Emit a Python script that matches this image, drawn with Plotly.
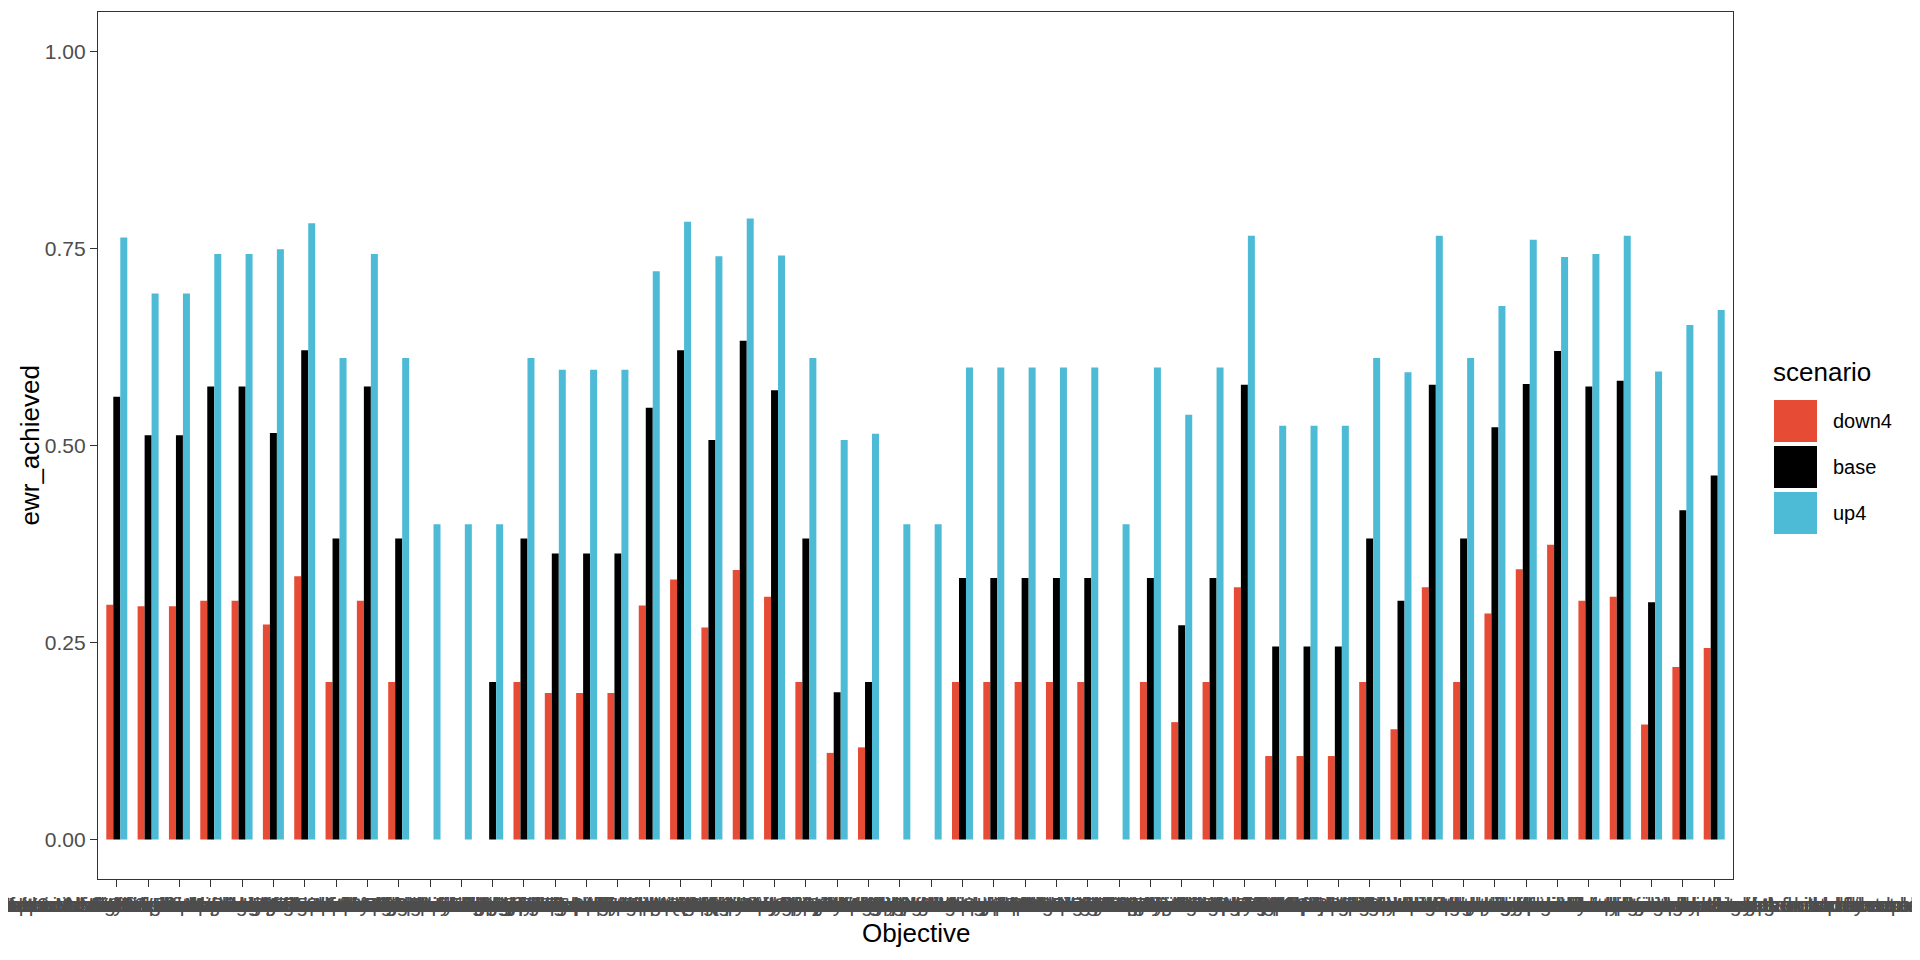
import plotly.graph_objects as go

# ---------------- data ----------------
objectives = [
    "NF1 No loss of native fish species",
    "NF2 Increase distribution of native fish",
    "NF3 Improve recruitment of short-lived fish",
    "NF4 Improve recruitment of long-lived fish",
    "NF5 Improve population structure of moderate-lived fish",
    "NF6 Increase movement of flow-cued spawning fish",
    "NF7 Improve fish community resilience in refugia",
    "NV1 Maintain extent of river red gum forest",
    "NV2 Improve condition of black box woodland",
    "NV3 Maintain lignum shrubland condition",
    "NV4 Increase extent of non-woody wetland vegetation",
    "NV5 Maintain riparian vegetation diversity",
    "NV6 Improve recruitment of coolibah woodland",
    "WB1 Maintain waterbird species diversity",
    "WB2 Increase abundance of colonial nesting birds",
    "WB3 Improve waterbird breeding success",
    "WB4 Support migratory shorebird habitat",
    "WB5 Maintain waterbird foraging habitat",
    "OS1 Support frog breeding and recruitment",
    "OS2 Maintain turtle populations",
    "OS3 Support platypus and water rat habitat",
    "OS4 Maintain crayfish and shrimp populations",
    "EF1 Provide wetland and floodplain productivity",
    "EF2 Support nutrient and carbon cycling",
    "EF3 Provide movement and dispersal opportunities",
    "EF4 Support instream primary productivity",
    "EF5 Maintain water quality and refugia",
    "EF6 Support groundwater-surface water exchange",
    "EF7 Maintain connectivity with the Murray",
    "WQ1 Maintain dissolved oxygen levels",
    "WQ2 Limit salinity in the lower reaches",
    "WQ3 Reduce risk of cyanobacterial blooms",
    "WQ4 Manage blackwater risk",
    "CH1 Maintain channel form and bench inundation",
    "CH2 Scour and reset of instream habitat",
    "CH3 Maintain pool habitat depth",
    "CH4 Support geomorphic processes on floodplain",
    "CU1 Support Aboriginal cultural values",
    "CU2 Maintain culturally significant species",
    "CU3 Protect culturally significant sites",
    "PR1 Provide baseflow in dry periods",
    "PR2 Provide freshes for fish spawning",
    "PR3 Provide bankfull flows",
    "PR4 Provide overbank flows to floodplain",
    "PR5 Provide small floodplain wetting events",
    "PR6 Provide large floodplain inundation events",
    "PR7 Maintain end-of-system flows",
    "PR8 Support wetland inundation frequency",
    "PR9 Maintain inter-event dry periods",
    "PR10 Provide winter-spring flow variability",
    "PR11 Provide summer-autumn low flow refugia",
    "PR12 Maintain hydrological connectivity",
]

# long objective context text (the labels in the chart are long and overlap)
contexts = [
    "across all planning units of the catchment",
    "in the regulated reaches and anabranches",
    "within the wetlands and lower floodplain assets",
    "along the river system and floodplain lakes",
]

scenarios = ["down4", "base", "up4"]

down4 = [0.298, 0.296, 0.296, 0.303, 0.303, 0.273, 0.334, 0.200, 0.303, 0.200,
         None, None, None, 0.200, 0.186, 0.186, 0.186, 0.297, 0.330, 0.269,
         0.342, 0.308, 0.200, 0.110, 0.117, None, None, 0.200, 0.200, 0.200,
         0.200, 0.200, None, 0.200, 0.149, 0.200, 0.320, 0.106, 0.106, 0.106,
         0.200, 0.140, 0.320, 0.200, 0.287, 0.343, 0.374, 0.303, 0.308, 0.146,
         0.219, 0.243]

base = [0.562, 0.513, 0.513, 0.575, 0.575, 0.516, 0.621, 0.382, 0.575, 0.382,
        None, None, 0.200, 0.382, 0.363, 0.363, 0.363, 0.548, 0.621, 0.507,
        0.633, 0.570, 0.382, 0.187, 0.200, None, None, 0.332, 0.332, 0.332,
        0.332, 0.332, None, 0.332, 0.272, 0.332, 0.577, 0.245, 0.245, 0.245,
        0.382, 0.303, 0.577, 0.382, 0.523, 0.578, 0.620, 0.575, 0.582, 0.301,
        0.418, 0.462]

up4 = [0.764, 0.693, 0.693, 0.743, 0.743, 0.749, 0.782, 0.611, 0.743, 0.611,
       0.400, 0.400, 0.400, 0.611, 0.596, 0.596, 0.596, 0.721, 0.784, 0.740,
       0.788, 0.741, 0.611, 0.507, 0.515, 0.400, 0.400, 0.599, 0.599, 0.599,
       0.599, 0.599, 0.400, 0.599, 0.539, 0.599, 0.766, 0.525, 0.525, 0.525,
       0.611, 0.593, 0.766, 0.611, 0.677, 0.761, 0.739, 0.743, 0.766, 0.594,
       0.653, 0.672]

y_ticks = [0.0, 0.25, 0.50, 0.75, 1.00]
y_tick_labels = ["0.00", "0.25", "0.50", "0.75", "1.00"]

colors = {"down4": "#E64B35", "base": "#000000", "up4": "#4DBBD5"}

tick_labels = [f"{o} {contexts[i % len(contexts)]}" for i, o in enumerate(objectives)]

# ---------------- layout constants (pixels) ----------------
OFF = 8                      # page body margin
W, H = 1904, 944
L, R, T, B = 90, 179, 4, 73
PW = W - L - R
PH = H - T - B
FONT = "Liberation Sans, Arial, sans-serif"


def px_x(page_px):
    return (page_px - OFF - L) / PW


def px_y(page_py):
    return (H - B - (page_py - OFF)) / PH


fig = go.Figure()
cats = list(range(len(objectives)))
for name, vals in zip(scenarios, [down4, base, up4]):
    fig.add_trace(go.Bar(
        x=cats, y=vals, name=name, marker_color=colors[name],
        marker_line_width=0, showlegend=False,
    ))

# custom legend (ggplot-like large keys)
shapes = []
annotations = []
key_top = 400
key_h = 42
key_gap = 4
for i, name in enumerate(scenarios):
    top = key_top + i * (key_h + key_gap)
    shapes.append(dict(type="rect", xref="paper", yref="paper",
                       x0=px_x(1774), x1=px_x(1817),
                       y0=px_y(top + key_h), y1=px_y(top),
                       fillcolor=colors[name], line_width=0))
    annotations.append(dict(text=name, xref="paper", yref="paper",
                            x=px_x(1831), y=px_y(top + key_h / 2),
                            xanchor="left", yanchor="middle", showarrow=False,
                            font=dict(family=FONT, size=20, color="#000000")))
annotations.append(dict(text="scenario", xref="paper", yref="paper",
                        x=px_x(1771), y=px_y(372), xanchor="left", yanchor="middle",
                        showarrow=False,
                        font=dict(family=FONT, size=26, color="#000000")))
annotations.append(dict(text="Objective", xref="paper", yref="paper",
                        x=0.5, y=px_y(933), xanchor="center", yanchor="middle",
                        showarrow=False,
                        font=dict(family=FONT, size=26, color="#000000")))
annotations.append(dict(text="ewr_achieved", xref="paper", yref="paper",
                        x=px_x(29), y=0.5, xanchor="center", yanchor="middle",
                        textangle=-90, showarrow=False,
                        font=dict(family=FONT, size=26, color="#000000")))

fig.update_layout(
    width=W, height=H,
    margin=dict(l=L, r=R, t=T, b=B, autoexpand=False),
    paper_bgcolor="white", plot_bgcolor="white",
    barmode="group", bargap=0.33, bargroupgap=0,
    font=dict(family=FONT),
    shapes=shapes, annotations=annotations,
    showlegend=False,
    xaxis=dict(
        range=[-0.6, len(objectives) - 1 + 0.6],
        tickmode="array", tickvals=cats, ticktext=tick_labels,
        tickangle=0, ticklabeloverflow="allow",
        ticks="outside", ticklen=7, tickwidth=1.1, tickcolor="#333333",
        tickfont=dict(family=FONT, size=21, color="#4D4D4D"),
        showline=True, linecolor="#333333", linewidth=1.3, mirror=True,
        showgrid=False, zeroline=False,
    ),
    yaxis=dict(
        range=[-0.05, 1.05],
        tickmode="array", tickvals=y_ticks, ticktext=y_tick_labels,
        ticks="outside", ticklen=7, tickwidth=1.1, tickcolor="#333333",
        tickfont=dict(family=FONT, size=21, color="#4D4D4D"),
        showline=True, linecolor="#333333", linewidth=1.3, mirror=True,
        showgrid=False, zeroline=False,
    ),
)

fig.write_html("out.html")
